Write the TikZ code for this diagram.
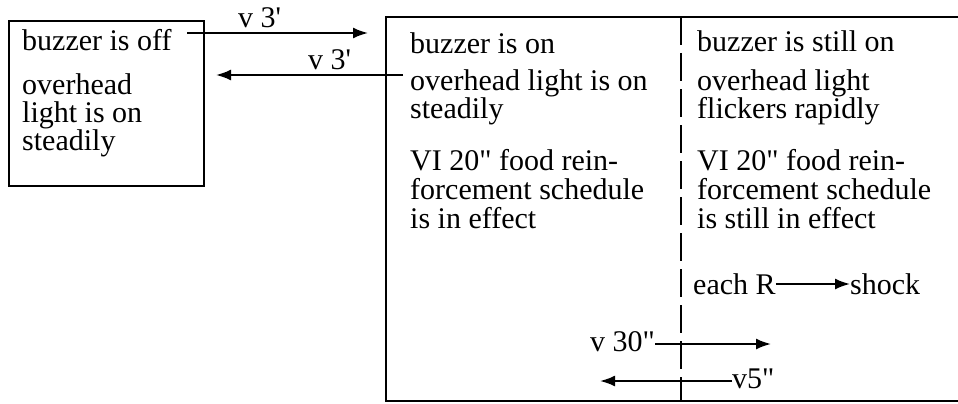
\documentclass[tikz,border=0pt]{standalone}
\usepackage{fontspec}
\setmainfont{Liberation Serif}
\usetikzlibrary{arrows.meta,positioning}
\newcommand{\txtfont}{\fontsize{30}{28}\selectfont}
\newcommand{\dq}{\textquotedbl}
\newcommand{\sq}{\textquotesingle}

\begin{document}
\begin{tikzpicture}[
  x=1pt,y=-1pt,
  every node/.style={inner sep=0pt,anchor=base west,align=left,font=\txtfont},
  frame/.style={line width=2.4pt},
  divider/.style={line width=2pt,dash pattern=on 28pt off 8pt},
  link/.style={line width=2pt,-{Latex[length=15pt,width=11pt]}}
]
\useasboundingbox (0,0) rectangle (958,404);
% left box: buzzer off (multi-line nodes sit on their last baseline)
\node[draw,frame,minimum width=195pt,minimum height=165pt,anchor=north west]
  (offbox) at (8,20) {};
\node (off1) at (22,51) {buzzer is off};
\node (off2) at (22,150) {overhead\\light is on\\steadily};
% big box: buzzer on, open to the right
\coordinate (ontop) at (958,17);
\coordinate (onbot) at (958,401);
\draw[frame] (ontop) -| (386,401) -- (onbot);
\coordinate (divtop) at (681,17);
\coordinate (divbot) at (681,401);
\draw[divider] (divtop) -- (divbot);
\node (on1) at (410,53) {buzzer is on};
\node (on2) at (410,118) {overhead light is on\\steadily};
\node[font=\fontsize{30}{29}\selectfont] (on3) at (410,228)
  {VI 20\dq{} food rein-\\forcement schedule\\is in effect};
\node (still1) at (697,52) {buzzer is still on};
\node (still2) at (697,118) {overhead light\\flickers rapidly};
\node[font=\fontsize{30}{29}\selectfont] (still3) at (697,228)
  {VI 20\dq{} food rein-\\forcement schedule\\is still in effect};
\node (eachR) at (693,294) {each R};
\node (shock) at (850,294) {shock};
\draw[link] (eachR.east |- 0,284) -- (shock.west |- 0,284);
% changeovers
\coordinate (go1) at (187,33);
\coordinate (go2) at (368,33);
\draw[link] (go1) -- (go2);
\node (v3a) at (238,28) {v 3\sq};
\coordinate (back1) at (403,75);
\coordinate (back2) at (216,75);
\draw[link] (back1) -- (back2);
\node (v3b) at (308,70) {v 3\sq};
\node[anchor=base east] (v30) at (655,351) {v 30\dq};
\coordinate (fl2) at (771,344);
\draw[link] (v30.east |- fl2) -- (fl2);
\node (v5) at (732,388) {v5\dq};
\coordinate (st2) at (600,381);
\draw[link] (v5.west |- st2) -- (st2);
\end{tikzpicture}
\end{document}
